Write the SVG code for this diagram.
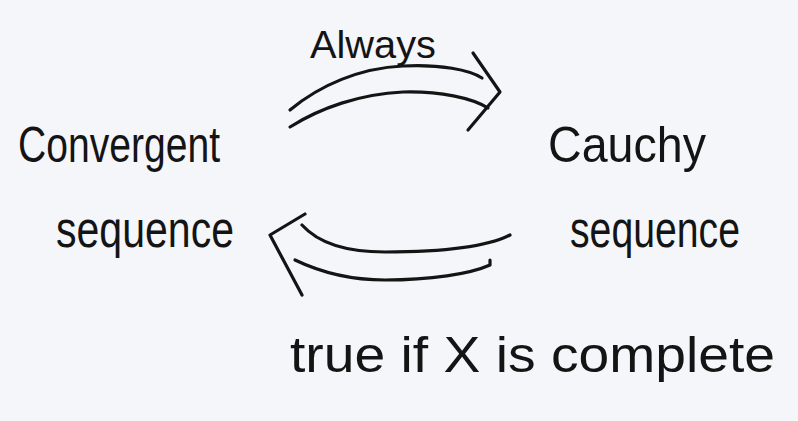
<svg xmlns="http://www.w3.org/2000/svg" width="798" height="421" viewBox="0 0 798 421">
  <style>
    .ink { fill: none; stroke: #141414; stroke-width: 3.2; stroke-linecap: round; stroke-linejoin: round; }
    .label { font-family: "Liberation Sans", "DejaVu Sans", sans-serif; fill: #141414; }
  </style>
  <rect width="798" height="421" fill="#f5f6fa"/>

  <g id="convergent">
    <text class="label" x="18" y="162" font-size="50" textLength="202" lengthAdjust="spacingAndGlyphs">Convergent</text>
    <text class="label" x="56" y="247" font-size="52" textLength="178" lengthAdjust="spacingAndGlyphs">sequence</text>
  </g>

  <g id="cauchy">
    <text class="label" x="548" y="162" font-size="50" textLength="158" lengthAdjust="spacingAndGlyphs">Cauchy</text>
    <text class="label" x="570" y="247" font-size="52" textLength="170" lengthAdjust="spacingAndGlyphs">sequence</text>
  </g>

  <g id="connectors">
    <!-- convergent implies Cauchy -->
    <g id="always-arrow">
      <path class="ink" d="M290,110 C320,85 360,68 403,66 C440,64 470,70 482,78"/>
      <path class="ink" d="M290,127 C320,108 360,94 403,92 C440,91 472,98 488,108"/>
      <path class="ink" d="M473,53 L500,92 L468,130"/>
      <text class="label" x="310" y="58" font-size="38" textLength="126" lengthAdjust="spacingAndGlyphs">Always</text>
    </g>
    <!-- Cauchy implies convergent when X is complete -->
    <g id="complete-arrow">
      <path class="ink" d="M302,225 C320,245 350,252 385,252 C440,252 485,248 510,235"/>
      <path class="ink" d="M295,260 C320,272 350,280 385,280 C430,280 470,274 490,265 L490,260"/>
      <path class="ink" d="M305,214 L270,235 L302,295"/>
      <text class="label" x="290" y="372" font-size="50" textLength="485" lengthAdjust="spacingAndGlyphs">true if X is complete</text>
    </g>
  </g>
</svg>
